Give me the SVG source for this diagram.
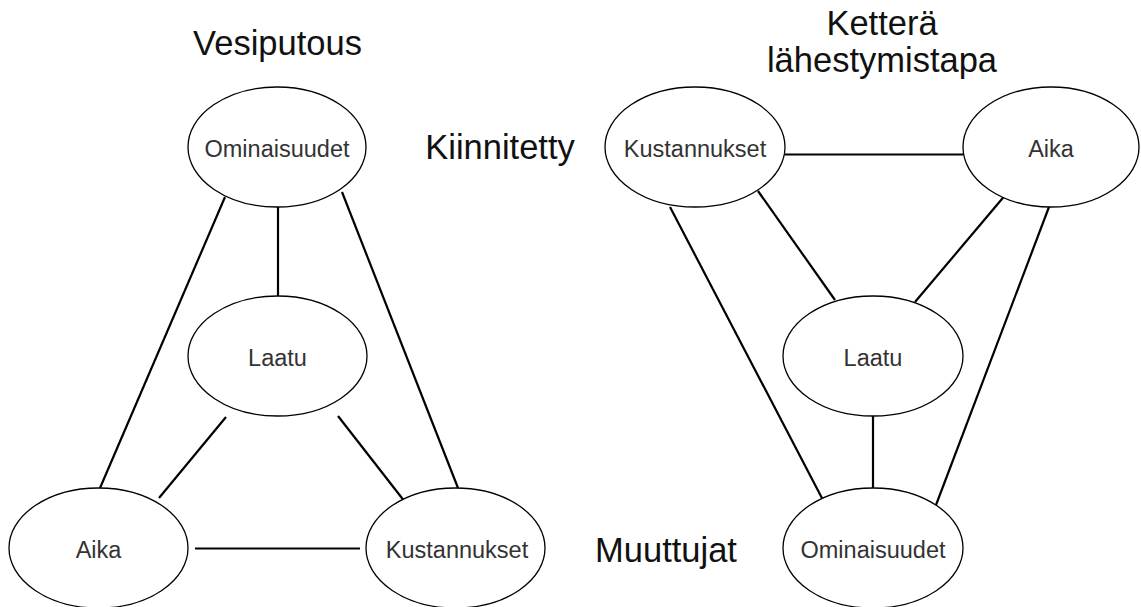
<svg xmlns="http://www.w3.org/2000/svg" width="1141" height="607" viewBox="0 0 1141 607">
<style>
.node ellipse{fill:#fff;stroke:#000;stroke-width:1.3}
.lbl{font-family:"Liberation Sans",Arial,sans-serif;font-size:23.5px;fill:#333;text-anchor:middle}
.ttl{font-family:"Liberation Sans",Arial,sans-serif;font-size:34.5px;fill:#111;text-anchor:middle}
.edges line{stroke:#000;stroke-width:2.2;stroke-linecap:butt}
</style>
<rect width="1141" height="607" fill="#fff"/>
<g id="titles">
<text class="ttl" x="277.5" y="55">Vesiputous</text>
<text class="ttl" x="882" y="35">Ketterä</text>
<text class="ttl" x="882" y="72">lähestymistapa</text>
<text class="ttl" x="500" y="159">Kiinnitetty</text>
<text class="ttl" x="666" y="562">Muuttujat</text>
</g>
<g class="edges" id="connectors">
<line x1="278" y1="207" x2="278" y2="296"/>
<line x1="225" y1="197" x2="100" y2="488"/>
<line x1="342" y1="192" x2="458" y2="488"/>
<line x1="338" y1="416" x2="405" y2="502"/>
<line x1="226" y1="417" x2="159" y2="498"/>
<line x1="195" y1="548.5" x2="360" y2="548.5"/>
<line x1="785" y1="154.5" x2="963" y2="154.5"/>
<line x1="758" y1="191" x2="835" y2="300"/>
<line x1="670" y1="207" x2="824" y2="502"/>
<line x1="1007" y1="193" x2="915" y2="302"/>
<line x1="1049" y1="207" x2="936" y2="505"/>
<line x1="873" y1="416" x2="873" y2="489"/>
</g>
<g class="node" id="v-ominaisuudet"><ellipse cx="277" cy="147" rx="89" ry="60"/><text class="lbl" x="277" y="157">Ominaisuudet</text></g>
<g class="node" id="v-laatu"><ellipse cx="277.5" cy="356" rx="89.5" ry="60"/><text class="lbl" x="277.5" y="366">Laatu</text></g>
<g class="node" id="v-aika"><ellipse cx="98.5" cy="548" rx="89.5" ry="60"/><text class="lbl" x="98.5" y="558">Aika</text></g>
<g class="node" id="v-kustannukset"><ellipse cx="455.5" cy="548" rx="89.5" ry="60"/><text class="lbl" x="457" y="558">Kustannukset</text></g>
<g class="node" id="k-kustannukset"><ellipse cx="695" cy="147" rx="90" ry="60"/><text class="lbl" x="695" y="157">Kustannukset</text></g>
<g class="node" id="k-aika"><ellipse cx="1051" cy="147" rx="88" ry="60"/><text class="lbl" x="1051" y="157">Aika</text></g>
<g class="node" id="k-laatu"><ellipse cx="873" cy="356" rx="90" ry="60"/><text class="lbl" x="873" y="366">Laatu</text></g>
<g class="node" id="k-ominaisuudet"><ellipse cx="873" cy="548" rx="90" ry="60"/><text class="lbl" x="873" y="558">Ominaisuudet</text></g>
</svg>
